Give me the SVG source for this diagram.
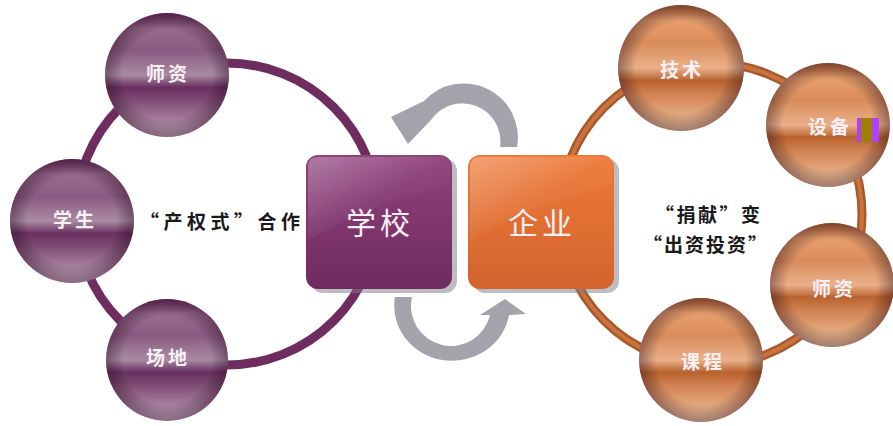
<svg xmlns="http://www.w3.org/2000/svg" width="893" height="426" viewBox="0 0 893 426">
<defs>
<linearGradient id="pSph" x1="0" y1="0" x2="0" y2="1">
<stop offset="0" stop-color="#6e2f60"/>
<stop offset="0.12" stop-color="#9a6a8f"/>
<stop offset="0.3" stop-color="#8a5a80"/>
<stop offset="0.5" stop-color="#a98aa3"/>
<stop offset="0.6" stop-color="#6a3060"/>
<stop offset="0.7" stop-color="#7e4a72"/>
<stop offset="1" stop-color="#c8aac2"/>
</linearGradient>
<linearGradient id="oSph" x1="0" y1="0" x2="0" y2="1">
<stop offset="0" stop-color="#b86634"/>
<stop offset="0.12" stop-color="#e9a06e"/>
<stop offset="0.3" stop-color="#d88c5a"/>
<stop offset="0.5" stop-color="#eab08a"/>
<stop offset="0.6" stop-color="#b8622e"/>
<stop offset="0.7" stop-color="#d08050"/>
<stop offset="1" stop-color="#f3c8a4"/>
</linearGradient>
<radialGradient id="edge" cx="0.5" cy="0.5" r="0.5">
<stop offset="0.72" stop-color="#000" stop-opacity="0"/>
<stop offset="1" stop-color="#2a0a20" stop-opacity="0.4"/>
</radialGradient>
<linearGradient id="pBox" x1="0" y1="0" x2="0" y2="1">
<stop offset="0" stop-color="#8f427c"/>
<stop offset="1" stop-color="#6f2b5e"/>
</linearGradient>
<linearGradient id="oBox" x1="0" y1="0" x2="0" y2="1">
<stop offset="0" stop-color="#ee7a3a"/>
<stop offset="1" stop-color="#d3642d"/>
</linearGradient>
<linearGradient id="gloss" x1="0" y1="0" x2="1" y2="1">
<stop offset="0" stop-color="#fff" stop-opacity="0.3"/>
<stop offset="0.5" stop-color="#fff" stop-opacity="0.04"/>
<stop offset="1" stop-color="#fff" stop-opacity="0"/>
</linearGradient>
<style>
.lbl{font-family:"Noto Sans CJK SC","Noto Sans CJK JP",sans-serif;font-size:19px;font-weight:bold;fill:#f8f0f5;text-anchor:middle;dominant-baseline:central;letter-spacing:3px}
.big{font-family:"Noto Sans CJK SC","Noto Sans CJK JP",sans-serif;font-size:30px;fill:#fbeff6;text-anchor:middle;dominant-baseline:central;letter-spacing:4px}
.cap{font-family:"Noto Sans CJK SC","Noto Sans CJK JP",sans-serif;font-size:19px;font-weight:bold;fill:#1a1a1a;dominant-baseline:central}
.arr{fill:#a3a3ab}
.shadow{fill:#7a7a88;opacity:0.5}
</style>
</defs>
<rect width="893" height="426" fill="#ffffff"/>

<g id="connectors">
<circle id="ring-left" cx="227" cy="214" r="151" fill="none" stroke="#6e2d5e" stroke-width="9"/>
<circle id="ring-right" cx="711" cy="214" r="151" fill="none" stroke="#a9582a" stroke-width="9"/>
<circle cx="711" cy="214" r="151" fill="none" stroke="#c97440" stroke-width="4"/>
<path id="arrow-top" class="arr" d="M517,147 A54,54 0 0,0 424,101 L391,117 L408,144 L431,120 A38,38 0 0,1 500,147 Z"/>
<path id="arrow-bottom" class="arr" d="M395,297 A57,54 0 0,0 509,315 L526,314 L505,299 L480,315 L490,315 A40,40 0 0,1 412,297 Z"/>
</g>

<g id="node-school">
<rect x="311" y="159" width="146" height="134" rx="12" class="shadow"/>
<rect x="306" y="155" width="146" height="134" rx="12" fill="url(#pBox)"/>
<path d="M318,157 H440 Q450,157 450,167 V185 Q380,200 308,240 V167 Q308,157 318,157 Z" fill="url(#gloss)"/>
<text class="big" x="380" y="221">学校</text>
</g>

<g id="node-enterprise">
<rect x="473" y="159" width="146" height="134" rx="12" class="shadow"/>
<rect x="468" y="155" width="146" height="134" rx="12" fill="url(#oBox)"/>
<path d="M480,157 H602 Q612,157 612,167 V185 Q542,200 470,240 V167 Q470,157 480,157 Z" fill="url(#gloss)"/>
<text class="big" x="542" y="221">企业</text>
</g>

<g id="node-l-shizi">
<circle cx="167" cy="75" r="62" fill="url(#pSph)"/>
<circle cx="167" cy="75" r="62" fill="url(#edge)"/>
<text class="lbl" x="168" y="72">师资</text>
</g>
<g id="node-l-xuesheng">
<circle cx="72" cy="221" r="62" fill="url(#pSph)"/>
<circle cx="72" cy="221" r="62" fill="url(#edge)"/>
<text class="lbl" x="75" y="218">学生</text>
</g>
<g id="node-l-changdi">
<circle cx="167" cy="360" r="61" fill="url(#pSph)"/>
<circle cx="167" cy="360" r="61" fill="url(#edge)"/>
<text class="lbl" x="168" y="356">场地</text>
</g>

<g id="node-r-jishu">
<circle cx="681" cy="68" r="63" fill="url(#oSph)"/>
<circle cx="681" cy="68" r="63" fill="url(#edge)"/>
<text class="lbl" x="682" y="68">技术</text>
</g>
<g id="node-r-shebei">
<circle cx="828" cy="125" r="62" fill="url(#oSph)"/>
<circle cx="828" cy="125" r="62" fill="url(#edge)"/>
<text class="lbl" x="830" y="125">设备</text>
<rect x="857" y="118" width="22" height="24" fill="#b040ff"/>
<rect x="861" y="118" width="11" height="24" fill="#a08000"/>
</g>
<g id="node-r-shizi">
<circle cx="832" cy="285" r="62" fill="url(#oSph)"/>
<circle cx="832" cy="285" r="62" fill="url(#edge)"/>
<text class="lbl" x="834" y="287">师资</text>
</g>
<g id="node-r-kecheng">
<circle cx="701" cy="360" r="62" fill="url(#oSph)"/>
<circle cx="701" cy="360" r="62" fill="url(#edge)"/>
<text class="lbl" x="703" y="360">课程</text>
</g>

<g id="caption-left">
<text class="cap" x="140" y="220" textLength="160" lengthAdjust="spacing">“产权式”合作</text>
</g>
<g id="caption-right">
<text class="cap" x="655" y="213" textLength="105" lengthAdjust="spacing">“捐献”变</text>
<text class="cap" x="643" y="243" textLength="124" lengthAdjust="spacing">“出资投资”</text>
</g>
</svg>
